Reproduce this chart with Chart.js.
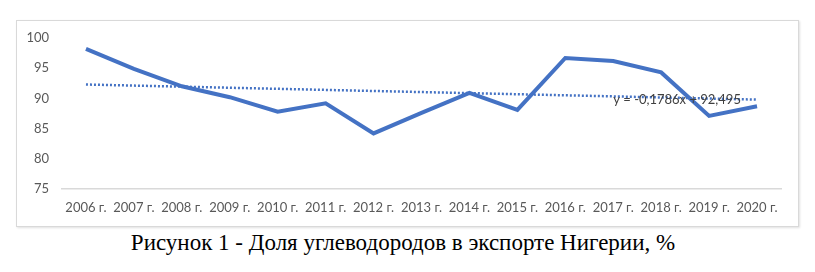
<!DOCTYPE html>
<html lang="ru">
<head>
<meta charset="UTF-8">
<title>Доля углеводородов в экспорте Нигерии</title>
<script src="https://cdn.jsdelivr.net/npm/chart.js"></script>
<style>
  body { margin: 0; background: #fff; width: 815px; height: 272px; position: relative; overflow: hidden; }
  #box { position: absolute; left: 16px; top: 20px; width: 781px; height: 205px; border: 1px solid #d9d9d9; box-shadow: 1px 1px 2px rgba(0,0,0,0.12); }
  #caption { position: absolute; left: 0; width: 806px; top: 230px; text-align: center; font-family: "Liberation Serif", serif; font-size: 23px; color: #000; }
</style>
</head>
<body>
<div id="box"><canvas id="chart" width="781" height="205"></canvas></div>
<div id="caption">Рисунок 1 - Доля углеводородов в экспорте Нигерии, %</div>
<script>
// данные
const years = ['2006 г.', '2007 г.', '2008 г.', '2009 г.', '2010 г.', '2011 г.', '2012 г.', '2013 г.',
               '2014 г.', '2015 г.', '2016 г.', '2017 г.', '2018 г.', '2019 г.', '2020 г.'];
const share = [98.2, 94.9, 92.0, 90.2, 87.8, 89.2, 84.2, 87.6, 90.9, 88.1, 96.7, 96.2, 94.3, 87.1, 88.7];
// линия тренда: только концы, между ними пусто
const trend = [92.3, null, null, null, null, null, null, null, null, null, null, null, null, null, 89.8];
const trendLabel = 'y = -0,1786x + 92,495';

const labelPlugin = {
  id: 'trendLabel',
  afterDatasetsDraw(chart) {
    const { ctx, scales } = chart;
    const x = scales.x.getPixelForValue(11.0);
    const y = scales.y.getPixelForValue(89.7);
    ctx.save();
    ctx.font = '13px Lato, sans-serif';
    ctx.fillStyle = '#404040';
    ctx.textAlign = 'left';
    ctx.textBaseline = 'middle';
    ctx.fillText(trendLabel, x, y);
    ctx.restore();
  }
};

new Chart(document.getElementById('chart'), {
  type: 'line',
  data: {
    labels: years,
    datasets: [
      {
        data: share,
        borderColor: '#4472C4',
        borderWidth: 4,
        pointRadius: 0,
        tension: 0,
        fill: false
      },
      {
        data: trend,
        borderColor: '#4472C4',
        borderWidth: 2.5,
        borderDash: [2, 2],
        pointRadius: 0,
        spanGaps: true,
        fill: false
      }
    ]
  },
  options: {
    responsive: false,
    animation: false,
    layout: { padding: { top: 17, right: 17, bottom: 0, left: 0 } },
    plugins: { legend: { display: false }, tooltip: { enabled: false } },
    scales: {
      x: {
        offset: true,
        afterFit: s => { s.height = 37; },
        grid: { display: false, drawTicks: false },
        border: { color: '#d9d9d9', width: 1.5 },
        ticks: { color: '#595959', font: { family: 'Lato', size: 13 }, padding: 11, maxRotation: 0, autoSkip: false }
      },
      y: {
        min: 75,
        max: 100,
        afterFit: s => { s.width = 45; s.paddingTop = 0; s.paddingBottom = 0; },
        grid: { display: false, drawTicks: false },
        border: { display: false },
        ticks: { stepSize: 5, color: '#595959', font: { family: 'Lato', size: 13 }, padding: 13 }
      }
    }
  },
  plugins: [labelPlugin]
});
</script>
</body>
</html>
